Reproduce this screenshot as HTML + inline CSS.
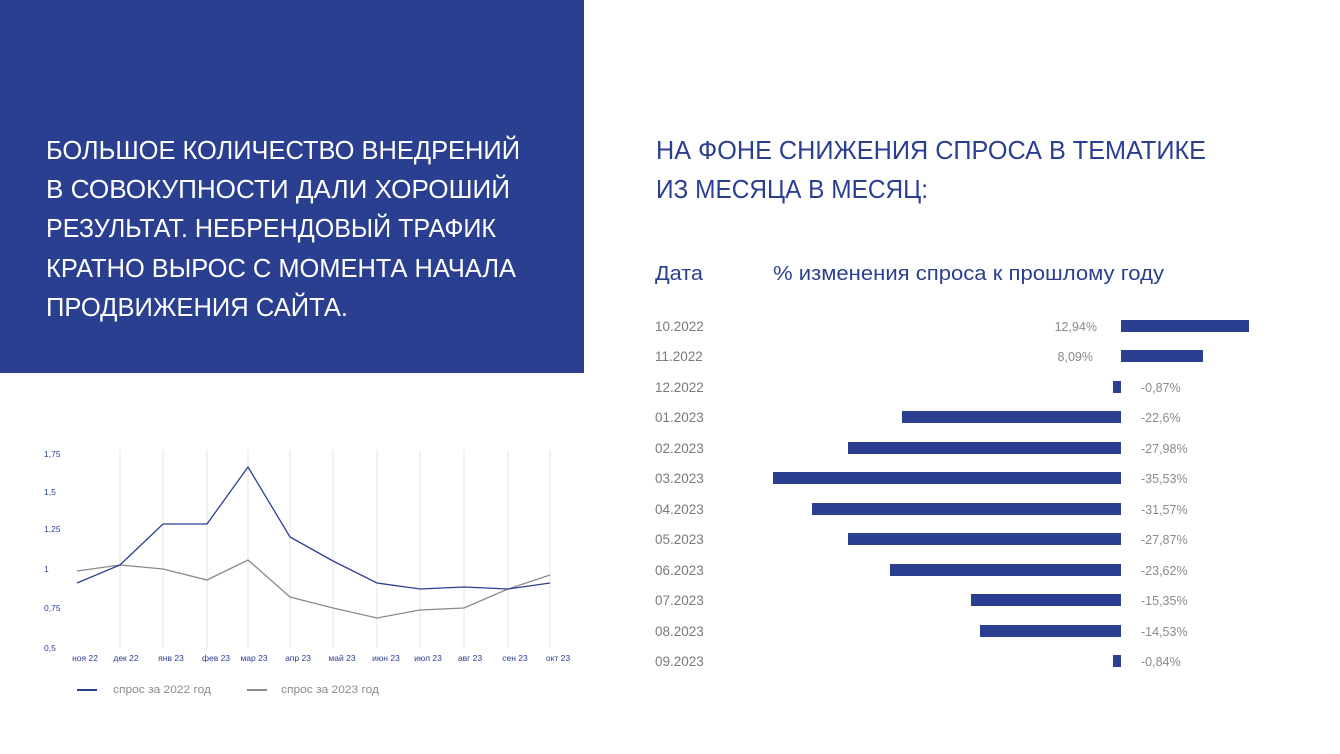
<!DOCTYPE html>
<html><head><meta charset="utf-8"><style>
html,body{margin:0;padding:0;background:#fff}
svg{display:block}
text{font-family:"Liberation Sans","DejaVu Sans",sans-serif}
</style></head><body>
<svg width="1340" height="754" viewBox="0 0 1340 754" xmlns="http://www.w3.org/2000/svg">
<rect x="0" y="0" width="1340" height="754" fill="#fff"/>
<rect x="0" y="0" width="584" height="373" fill="#2b3f91"/>
<g fill="#fff" font-size="26">
<text x="46" y="159" textLength="474" lengthAdjust="spacingAndGlyphs">БОЛЬШОЕ КОЛИЧЕСТВО ВНЕДРЕНИЙ</text>
<text x="46" y="198" textLength="464" lengthAdjust="spacingAndGlyphs">В СОВОКУПНОСТИ ДАЛИ ХОРОШИЙ</text>
<text x="46" y="237" textLength="450" lengthAdjust="spacingAndGlyphs">РЕЗУЛЬТАТ. НЕБРЕНДОВЫЙ ТРАФИК</text>
<text x="46" y="277" textLength="470" lengthAdjust="spacingAndGlyphs">КРАТНО ВЫРОС С МОМЕНТА НАЧАЛА</text>
<text x="46" y="316" textLength="302" lengthAdjust="spacingAndGlyphs">ПРОДВИЖЕНИЯ САЙТА.</text>
</g>
<g fill="#2b3f91" font-size="26">
<text x="656" y="159" textLength="550" lengthAdjust="spacingAndGlyphs">НА ФОНЕ СНИЖЕНИЯ СПРОСА В ТЕМАТИКЕ</text>
<text x="656" y="198" textLength="272" lengthAdjust="spacingAndGlyphs">ИЗ МЕСЯЦА В МЕСЯЦ:</text>
</g>
<g fill="#2b3f91" font-size="20">
<text x="655" y="280" textLength="48" lengthAdjust="spacingAndGlyphs">Дата</text>
<text x="773" y="280" textLength="391" lengthAdjust="spacingAndGlyphs">% изменения спроса к прошлому году</text>
</g>
<g stroke="#e4e4e4" stroke-width="1">
<line x1="120" y1="450" x2="120" y2="648"/><line x1="163" y1="450" x2="163" y2="648"/>
<line x1="207" y1="450" x2="207" y2="648"/><line x1="248" y1="450" x2="248" y2="648"/>
<line x1="290" y1="450" x2="290" y2="648"/><line x1="333" y1="450" x2="333" y2="648"/>
<line x1="377" y1="450" x2="377" y2="648"/><line x1="420" y1="450" x2="420" y2="648"/>
<line x1="464" y1="450" x2="464" y2="648"/><line x1="508" y1="450" x2="508" y2="648"/>
<line x1="550" y1="450" x2="550" y2="648"/>
</g>
<g fill="#2b3f91" font-size="8.5">
<text x="44" y="457">1,75</text><text x="44" y="495">1,5</text><text x="44" y="532">1,25</text>
<text x="44" y="572">1</text><text x="44" y="611">0,75</text><text x="44" y="651">0,5</text>
</g>
<g fill="#2b3f91" font-size="8.5" text-anchor="middle">
<text x="85" y="661">ноя 22</text><text x="126" y="661">дек 22</text><text x="171" y="661">янв 23</text>
<text x="216" y="661">фев 23</text><text x="254" y="661">мар 23</text><text x="298" y="661">апр 23</text>
<text x="342" y="661">май 23</text><text x="386" y="661">июн 23</text><text x="428" y="661">июл 23</text>
<text x="470" y="661">авг 23</text><text x="515" y="661">сен 23</text><text x="558" y="661">окт 23</text>
</g>
<polyline fill="none" stroke="#8a8a8a" stroke-width="1.3" points="77,571 120,565 163,569 207,580 248,560 290,597 333,608 377,618 420,610 464,608 508,589 550,575"/>
<polyline fill="none" stroke="#2b3f91" stroke-width="1.3" points="77,583 120,565 163,524 207,524 248,467 290,537 333,561 377,583 420,589 464,587 508,589 550,583"/>
<line x1="77" y1="690" x2="97" y2="690" stroke="#2b3f91" stroke-width="2"/>
<line x1="247" y1="690" x2="267" y2="690" stroke="#8a8a8a" stroke-width="2"/>
<g fill="#8a8a8a" font-size="11">
<text x="113" y="693" textLength="98" lengthAdjust="spacingAndGlyphs">спрос за 2022 год</text><text x="281" y="693" textLength="98" lengthAdjust="spacingAndGlyphs">спрос за 2023 год</text>
</g>
<g fill="#7a7a7a" font-size="13.5">
<text x="655" y="331">10.2022</text><text x="655" y="361">11.2022</text><text x="655" y="392">12.2022</text>
<text x="655" y="422">01.2023</text><text x="655" y="453">02.2023</text><text x="655" y="483">03.2023</text>
<text x="655" y="514">04.2023</text><text x="655" y="544">05.2023</text><text x="655" y="575">06.2023</text>
<text x="655" y="605">07.2023</text><text x="655" y="636">08.2023</text><text x="655" y="666">09.2023</text>
</g>
<g fill="#2b3f91">
<rect x="1121" y="320" width="128" height="12"/>
<rect x="1121" y="350" width="82" height="12"/>
<rect x="1113" y="381" width="8" height="12"/>
<rect x="902" y="411" width="219" height="12"/>
<rect x="848" y="442" width="273" height="12"/>
<rect x="773" y="472" width="348" height="12"/>
<rect x="812" y="503" width="309" height="12"/>
<rect x="848" y="533" width="273" height="12"/>
<rect x="890" y="564" width="231" height="12"/>
<rect x="971" y="594" width="150" height="12"/>
<rect x="980" y="625" width="141" height="12"/>
<rect x="1113" y="655" width="8" height="12"/>
</g>
<g fill="#8a8a8a" font-size="12.5">
<text x="1097" y="331" text-anchor="end">12,94%</text>
<text x="1093" y="361" text-anchor="end">8,09%</text>
<text x="1141" y="392">-0,87%</text><text x="1141" y="422">-22,6%</text>
<text x="1141" y="453">-27,98%</text><text x="1141" y="483">-35,53%</text>
<text x="1141" y="514">-31,57%</text><text x="1141" y="544">-27,87%</text>
<text x="1141" y="575">-23,62%</text><text x="1141" y="605">-15,35%</text>
<text x="1141" y="636">-14,53%</text><text x="1141" y="666">-0,84%</text>
</g>
</svg>
</body></html>
